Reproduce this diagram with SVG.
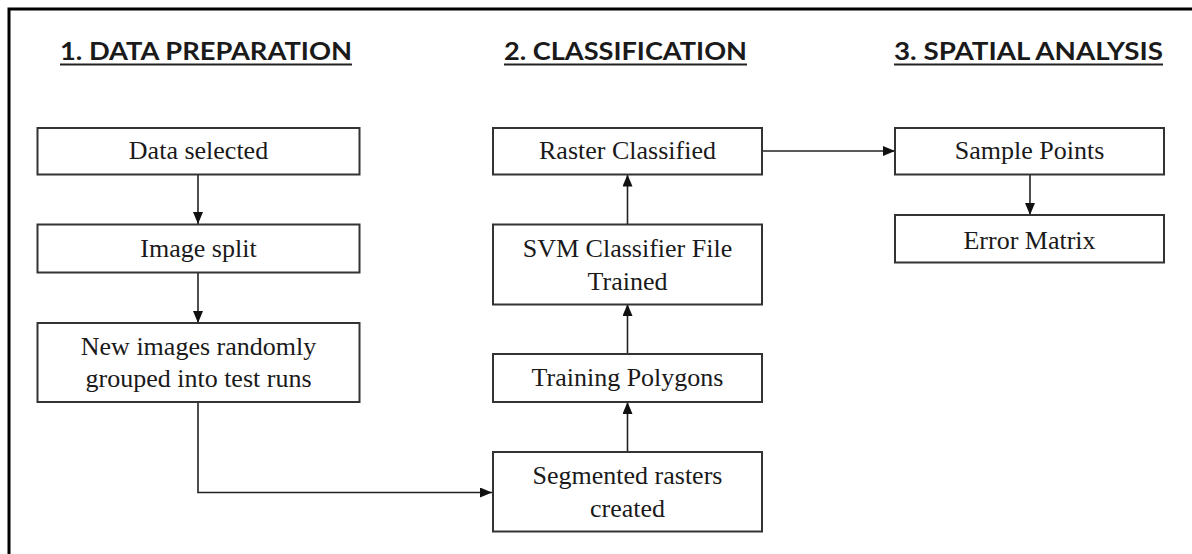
<svg xmlns="http://www.w3.org/2000/svg" width="1192" height="554" viewBox="0 0 1192 554">
<defs>
<style>
.box{fill:#fff;stroke:#333;stroke-width:2}
.t{font-family:"Liberation Serif","Times New Roman",serif;font-size:26px;fill:#1a1a1a;text-anchor:middle}
.h{font-family:Lato,"Open Sans",sans-serif;font-weight:bold;font-size:25px;fill:#1a1a1a}
.ul{stroke:#222;stroke-width:2}
.c{fill:none;stroke:#222;stroke-width:1.6}
</style>
<marker id="ah" viewBox="0 0 12 10" refX="12" refY="5" markerWidth="12" markerHeight="10" markerUnits="userSpaceOnUse" orient="auto">
<path d="M0,0 L12,5 L0,10 Z" fill="#111"/>
</marker>
</defs>
<rect width="1192" height="554" fill="#fff"/>
<g id="frame">
<path d="M9,554 V9 H1192" fill="none" stroke="#000" stroke-width="3"/>
</g>
<g id="headings">
<text class="h" x="60" y="60" textLength="292" lengthAdjust="spacingAndGlyphs">1. DATA PREPARATION</text>
<line class="ul" x1="60" y1="64.5" x2="352" y2="64.5"/>
<text class="h" x="504" y="60" textLength="243" lengthAdjust="spacingAndGlyphs">2. CLASSIFICATION</text>
<line class="ul" x1="504" y1="64.5" x2="747" y2="64.5"/>
<text class="h" x="894" y="60" textLength="269" lengthAdjust="spacingAndGlyphs">3. SPATIAL ANALYSIS</text>
<line class="ul" x1="894" y1="64.5" x2="1163" y2="64.5"/>
</g>
<g id="connectors">
<line class="c" x1="198" y1="175" x2="198" y2="224" marker-end="url(#ah)"/>
<line class="c" x1="198" y1="273" x2="198" y2="323" marker-end="url(#ah)"/>
<polyline class="c" points="198,402 198,492.5 492,492.5" marker-end="url(#ah)"/>
<line class="c" x1="627.5" y1="452" x2="627.5" y2="402" marker-end="url(#ah)"/>
<line class="c" x1="627.5" y1="354" x2="627.5" y2="304" marker-end="url(#ah)"/>
<line class="c" x1="627.5" y1="224" x2="627.5" y2="174.5" marker-end="url(#ah)"/>
<line class="c" x1="762" y1="151" x2="895" y2="151" marker-end="url(#ah)"/>
<line class="c" x1="1030" y1="175" x2="1030" y2="215" marker-end="url(#ah)"/>
</g>
<g id="n-data-selected">
<rect class="box" x="37.5" y="128" width="322" height="46.5"/>
<text class="t" x="198.5" y="159">Data selected</text>
</g>
<g id="n-image-split">
<rect class="box" x="37.5" y="224.5" width="322" height="48"/>
<text class="t" x="198.5" y="257">Image split</text>
</g>
<g id="n-new-images">
<rect class="box" x="37.5" y="323" width="322" height="79"/>
<text class="t" x="198.5" y="355">New images randomly</text>
<text class="t" x="198.5" y="387">grouped into test runs</text>
</g>
<g id="n-raster-classified">
<rect class="box" x="493" y="128" width="269" height="46.5"/>
<text class="t" x="627.5" y="159">Raster Classified</text>
</g>
<g id="n-svm">
<rect class="box" x="493" y="224.5" width="269" height="80"/>
<text class="t" x="627.5" y="257">SVM Classifier File</text>
<text class="t" x="627.5" y="290">Trained</text>
</g>
<g id="n-training">
<rect class="box" x="493" y="354" width="269" height="48"/>
<text class="t" x="627.5" y="386">Training Polygons</text>
</g>
<g id="n-segmented">
<rect class="box" x="493" y="452" width="269" height="79.5"/>
<text class="t" x="627.5" y="484">Segmented rasters</text>
<text class="t" x="627.5" y="516.5">created</text>
</g>
<g id="n-sample-points">
<rect class="box" x="895" y="128" width="269" height="46.5"/>
<text class="t" x="1029.5" y="158.5">Sample Points</text>
</g>
<g id="n-error-matrix">
<rect class="box" x="895" y="215" width="269" height="47.5"/>
<text class="t" x="1029.5" y="248.5">Error Matrix</text>
</g>
</svg>
